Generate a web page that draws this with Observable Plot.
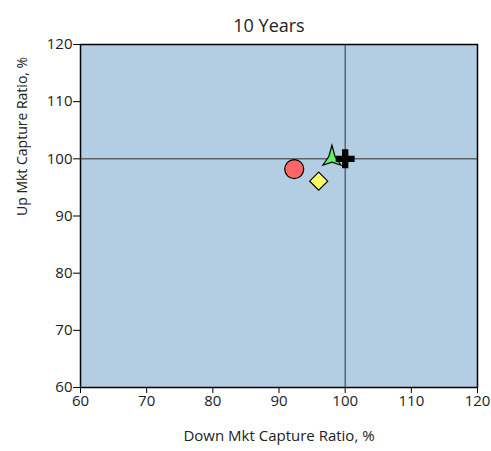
<!DOCTYPE html>
<html>
<head>
<meta charset="utf-8">
<script src="https://cdn.jsdelivr.net/npm/d3@7"></script>
<script src="https://cdn.jsdelivr.net/npm/@observablehq/plot@0.6"></script>
<style>
  html, body { margin: 0; padding: 0; background: #fff; }
</style>
</head>
<body>
<div id="chart"></div>
<script>
const title = "10 Years";
const xLabel = "Down Mkt Capture Ratio, %";
const yLabel = "Up Mkt Capture Ratio, %";
const names = ["Fund A", "Fund B", "Fund C", "Benchmark"];
const downCapture = [92.3, 96.0, 98.0, 100.0];
const upCapture = [98.2, 96.1, 100.1, 100.0];
const shapes = ["circle", "diamond", "arrow", "cross"];
const fills = ["#ff6666", "#ffff66", "#66ee66", "#000000"];
const xTicks = [60, 70, 80, 90, 100, 110, 120];
const yTicks = [60, 70, 80, 90, 100, 110, 120];
const refX = [100];
const refY = [100];

const arrowSymbol = {
  draw(context, size) {
    const k = Math.sqrt(size) / 14.2;
    context.moveTo(0, -13 * k);
    context.lineTo(3 * k, -2 * k);
    context.lineTo(9 * k, 7 * k);
    context.lineTo(0, 4 * k);
    context.lineTo(-9 * k, 7 * k);
    context.lineTo(-3 * k, -2 * k);
    context.closePath();
  }
};
const symbolFor = {circle: "circle", diamond: "diamond2", arrow: arrowSymbol, cross: "cross"};
const sizeFor = {circle: 9.5, diamond: 8.1, arrow: 8, cross: 8};

const data = names.map((n, i) => ({
  name: n, x: downCapture[i], y: upCapture[i], shape: shapes[i], fill: fills[i]
}));

const font = "'Open Sans', 'Liberation Sans', Arial, sans-serif";

const chart = Plot.plot({
  width: 491,
  height: 451,
  marginLeft: 80,
  marginRight: 14,
  marginTop: 44,
  marginBottom: 64,
  style: {fontSize: "15px", fontFamily: font, color: "#000", background: "#fff"},
  x: {domain: [60, 120]},
  y: {domain: [60, 120]},
  marks: [
    Plot.frame({fill: "#b3cde3", stroke: "none"}),
    Plot.ruleX(refX, {stroke: "#333", strokeWidth: 1}),
    Plot.ruleY(refY, {stroke: "#333", strokeWidth: 1}),
    Plot.frame({stroke: "#000", strokeWidth: 1.5}),
    Plot.axisX({ticks: xTicks, tickSize: 6, tickPadding: 2, label: null, fontSize: 15, fill: "#222"}),
    Plot.axisY({ticks: yTicks, tickSize: 7, tickPadding: 1, label: null, fontSize: 15, fill: "#222"}),
    ...data.map(d => Plot.dot([d], {
      x: "x", y: "y",
      symbol: () => symbolFor[d.shape],
      r: sizeFor[d.shape],
      fill: d.fill,
      stroke: "#000",
      strokeWidth: d.shape === "cross" ? 0 : 1.2
    })),
    Plot.text([title], {frameAnchor: "top", dy: -25, dx: -10, fontSize: 18, fill: "#222"}),
    Plot.text([xLabel], {frameAnchor: "bottom", dy: 53, fontSize: 15, fill: "#222"}),
    Plot.text([yLabel], {frameAnchor: "left", dx: -58, rotate: -90, fontSize: 14, fill: "#222"})
  ]
});
document.getElementById("chart").appendChild(chart);
</script>
</body>
</html>
